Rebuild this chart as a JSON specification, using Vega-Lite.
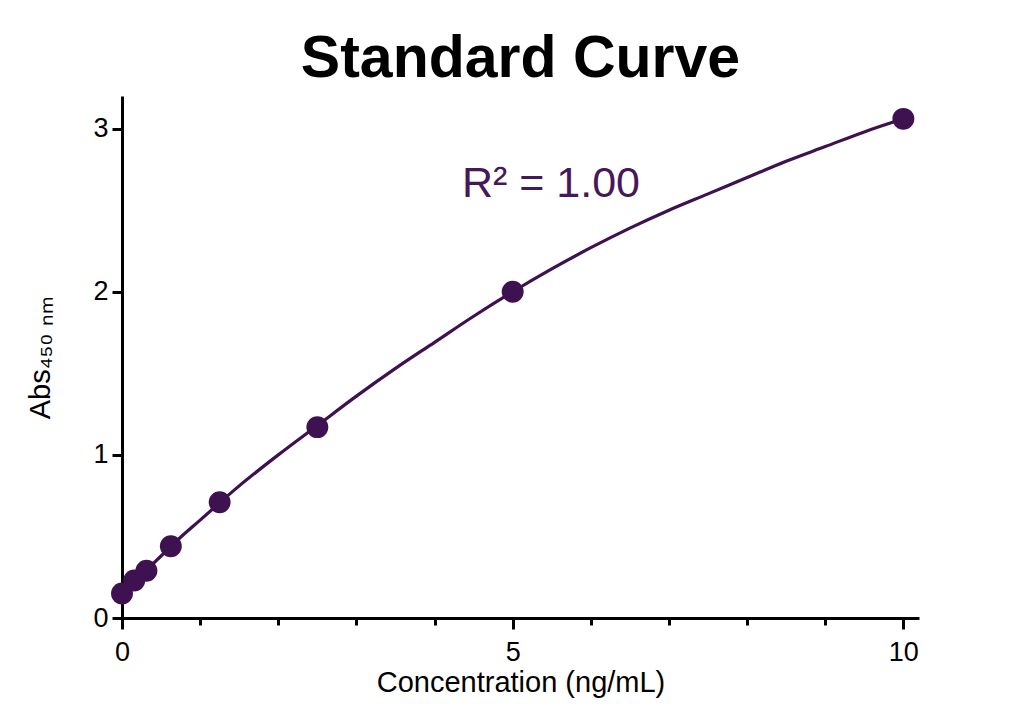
{
  "$schema": "https://vega.github.io/schema/vega-lite/v6.json",
  "autosize": "none",
  "width": 797,
  "height": 522,
  "padding": {"left": 122, "top": 96, "right": 90, "bottom": 108},
  "background": "white",
  "title": {
    "text": "Standard Curve",
    "font": "Liberation Sans",
    "fontSize": 59,
    "fontWeight": "bold",
    "color": "#000000",
    "anchor": "middle",
    "baseline": "alphabetic",
    "offset": 18,
    "dy": 58
  },
  "config": {
    "view": {"stroke": null},
    "font": "Liberation Sans"
  },
  "datasets": {
    "curve": [
      {"conc": 0, "abs": 0.15},
      {"conc": 0.25, "abs": 0.265},
      {"conc": 0.5, "abs": 0.38},
      {"conc": 0.75, "abs": 0.495},
      {"conc": 1, "abs": 0.6},
      {"conc": 1.5, "abs": 0.81},
      {"conc": 2, "abs": 1.0},
      {"conc": 2.5, "abs": 1.18},
      {"conc": 3, "abs": 1.36},
      {"conc": 3.5, "abs": 1.53},
      {"conc": 4, "abs": 1.69},
      {"conc": 4.5, "abs": 1.85},
      {"conc": 5, "abs": 2.0},
      {"conc": 5.5, "abs": 2.14},
      {"conc": 6, "abs": 2.27},
      {"conc": 6.5, "abs": 2.39},
      {"conc": 7, "abs": 2.5},
      {"conc": 7.5, "abs": 2.6},
      {"conc": 8, "abs": 2.7},
      {"conc": 8.5, "abs": 2.8},
      {"conc": 9, "abs": 2.89},
      {"conc": 9.5, "abs": 2.98},
      {"conc": 10, "abs": 3.06}
    ],
    "standards": [
      {"conc": 0, "abs": 0.15},
      {"conc": 0.156, "abs": 0.23},
      {"conc": 0.3125, "abs": 0.29},
      {"conc": 0.625, "abs": 0.44},
      {"conc": 1.25, "abs": 0.71},
      {"conc": 2.5, "abs": 1.17},
      {"conc": 5, "abs": 2.0},
      {"conc": 10, "abs": 3.06}
    ],
    "annotation": [
      {"conc": 4.35, "abs": 2.58, "label": "R² = 1.00"}
    ]
  },
  "layer": [
    {
      "data": {"name": "curve"},
      "mark": {"type": "line", "color": "#3e1150", "strokeWidth": 3.2, "interpolate": "monotone", "clip": false},
      "encoding": {
        "x": {
          "field": "conc",
          "type": "quantitative",
          "scale": {"domain": [0, 10.2], "nice": false, "zero": true},
          "axis": {
            "title": "Concentration (ng/mL)",
            "titleFont": "Liberation Sans",
            "titleFontSize": 29,
            "titleFontWeight": "normal",
            "titleColor": "#000000",
            "titlePadding": 3,
            "values": [0, 1, 2, 3, 4, 5, 6, 7, 8, 9, 10],
            "format": "~g",
            "labelExpr": "datum.value % 5 === 0 ? datum.label : ''",
            "labelFont": "Liberation Sans",
            "labelFontSize": 27,
            "labelColor": "#000000",
            "labelPadding": 10,
            "labelFlush": false,
            "labelOverlap": false,
            "tickSize": {"condition": {"test": "datum.value % 5 === 0", "value": 11}, "value": 7},
            "tickWidth": 3,
            "tickColor": "#000000",
            "domainWidth": 3,
            "domainColor": "#000000",
            "grid": false
          }
        },
        "y": {
          "field": "abs",
          "type": "quantitative",
          "scale": {"domain": [0, 3.2], "nice": false, "zero": true},
          "axis": {
            "title": "Abs₄₅₀ ₙₘ",
            "titleFont": "Liberation Sans",
            "titleFontSize": 29,
            "titleFontWeight": "normal",
            "titleColor": "#000000",
            "titlePadding": 37,
            "values": [0, 1, 2, 3],
            "format": "~g",
            "labelFont": "Liberation Sans",
            "labelFontSize": 27,
            "labelColor": "#000000",
            "labelPadding": 4,
            "labelFlush": false,
            "tickSize": 10,
            "tickWidth": 3,
            "tickColor": "#000000",
            "domainWidth": 3,
            "domainColor": "#000000",
            "grid": false
          }
        }
      }
    },
    {
      "data": {"name": "standards"},
      "mark": {"type": "point", "filled": true, "shape": "circle", "size": 480, "color": "#3e1150", "opacity": 1, "clip": false},
      "encoding": {
        "x": {"field": "conc", "type": "quantitative"},
        "y": {"field": "abs", "type": "quantitative"}
      }
    },
    {
      "data": {"name": "annotation"},
      "mark": {"type": "text", "align": "left", "baseline": "alphabetic", "font": "Liberation Sans", "fontSize": 43, "color": "#45185a"},
      "encoding": {
        "x": {"field": "conc", "type": "quantitative"},
        "y": {"field": "abs", "type": "quantitative"},
        "text": {"field": "label"}
      }
    }
  ]
}
